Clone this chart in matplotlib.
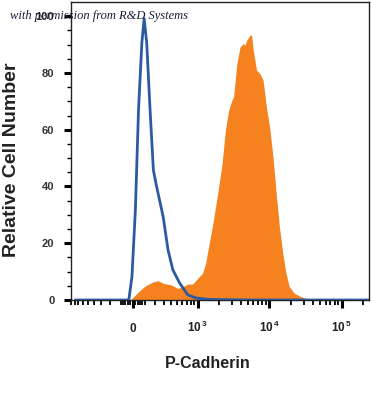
import numpy as np
import matplotlib
matplotlib.use("Agg")
import matplotlib.pyplot as plt

# ---- data (fluorescence intensity, relative cell number) ----
iso_x = [-770, -200, -32, -6, 22, 48, 76, 96, 119, 150, 182, 216, 291, 355, 427, 544, 721, 946, 1500, 5000, 30000, 240000]
iso_y = [0, 0, 0, 8.2, 31.7, 66.9, 90.5, 99.2, 90.5, 66.9, 45.8, 39.9, 29.3, 17.6, 10.6, 6.0, 1.8, 0.7, 0.2, 0, 0, 0]

pc_x = [-770, -19, 63, 119, 182, 233, 291, 403, 512, 609, 721, 850, 1056, 1174, 1306, 1378, 1616, 1892,
        2216, 2460, 2737, 3035, 3200, 3552, 3940, 4385, 4608, 4860, 5392, 5687, 5998, 6654, 7381, 8209,
        9108, 10100, 11231, 12452, 13800, 15369, 17039, 18890, 22100, 27250, 37265, 240000]
pc_y = [0, 0, 3.5, 5.3, 6.4, 6.8, 5.9, 5.3, 4.1, 4.7, 5.6, 5.6, 8.2, 9.4, 13.0, 16.5, 25.8, 36.4,
        48.1, 59.9, 66.9, 70.4, 71.6, 83.3, 89.2, 90.4, 89.8, 91.5, 93.3, 93.3, 88.0, 81.0, 79.8, 77.5,
        68.0, 61.0, 50.5, 37.6, 25.8, 16.4, 9.4, 4.7, 2.4, 1.2, 0, 0]

x_major = [0, 1e3, 1e4, 1e5]
x_major_labels = [r"$\mathbf{0}$", r"$\mathbf{10^{\,3}}$", r"$\mathbf{10^{\,4}}$", r"$\mathbf{10^{\,5}}$"]
y_major = [0, 20, 40, 60, 80, 100]

plt.rcParams["mathtext.fontset"] = "custom"
plt.rcParams["mathtext.bf"] = "Liberation Sans:bold"
plt.rcParams["mathtext.rm"] = "Liberation Sans"
plt.rcParams["font.family"] = ["Liberation Sans", "DejaVu Sans"]

fig = plt.figure(figsize=(3.71, 3.95), dpi=100)
ax = fig.add_axes([71 / 371, 1 - 300 / 395, (369 - 71) / 371, (300 - 2) / 395])

ax.set_xscale("asinh", linear_width=257)
ax.fill_between(pc_x, pc_y, 0, color="#f5821f", linewidth=0, zorder=2)
ax.plot(iso_x, iso_y, color="#2b5aa0", lw=2.0, zorder=3, solid_joinstyle="round")

ax.set_xlim(-770, 240000)
ax.set_ylim(0, 105)

# x ticks
minor = []
for s in (-1, 1):
    minor += [s * v for v in range(20, 100, 20)]
    minor += [s * v for v in range(100, 1000, 100)]
minor += [m * 10 ** e for e in (3, 4) for m in range(2, 10)]
minor += [2e5]
ax.set_xticks(x_major)
ax.set_xticklabels(x_major_labels)
ax.set_xticks(minor, minor=True)
ax.tick_params(axis="x", which="major", length=6, width=2.2, direction="out", pad=17,
               labelsize=8.5, labelcolor="#222222", color="black")
ax.tick_params(axis="x", which="minor", length=3.5, width=1.3, direction="out", color="black")
for t in ax.get_xticklabels():
    t.set_verticalalignment("baseline")

# y ticks
ax.set_yticks(y_major)
ax.set_yticks(np.arange(0, 105, 5), minor=True)
ax.tick_params(axis="y", which="major", length=5, width=2.2, direction="out", pad=7,
               labelsize=8, labelcolor="#333333", color="black")
ax.tick_params(axis="y", which="minor", length=3, width=1.0, direction="out", color="black")
for t in ax.get_yticklabels():
    t.set_fontweight("bold")

for sp in ax.spines.values():
    sp.set_linewidth(1.0)
    sp.set_color("#222222")

fig.text(12 / 371, 1 - 160 / 395, "Relative Cell Number", rotation=90, ha="center", va="center",
         fontsize=14, fontweight="bold", color="#222222")
fig.text(207.5 / 371, 1 - 364 / 395, "P-Cadherin", ha="center", va="center",
         fontsize=11.5, fontweight="bold", color="#222222")
fig.text(10 / 371, 1 - 16 / 395, "with permission from R&D Systems", ha="left", va="center",
         fontsize=9, style="italic", family="Liberation Serif", color="#1c1c3a", zorder=10)

fig.savefig("out.png", dpi=100)
